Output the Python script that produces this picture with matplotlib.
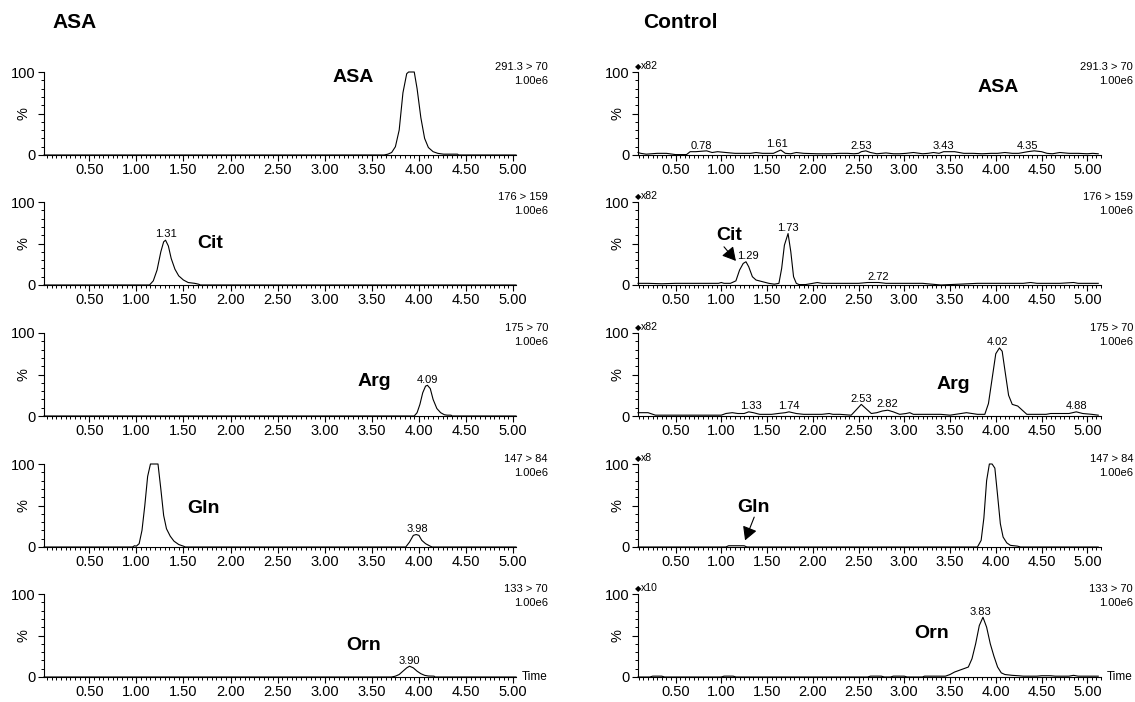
"""
plot.py
-------
MRM chromatograms (ASA patient vs control), five transitions each.
Writes out.png at 1135x702.
"""

import matplotlib
matplotlib.use("Agg")
import matplotlib.pyplot as plt
import numpy as np
from matplotlib.ticker import MultipleLocator, FixedLocator, FixedFormatter

plt.rcParams["font.family"] = ["Liberation Sans", "DejaVu Sans"]

FIG_W, FIG_H = 1135, 702

COMPOUNDS = ["ASA", "Cit", "Arg", "Gln", "Orn"]
TRANSITIONS = ["291.3 > 70", "176 > 159", "175 > 70", "147 > 84", "133 > 70"]
INTENSITY = "1.00e6"
CTRL_GAIN = ["x82", "x82", "x82", "x8", "x10"]

# ---- ASA sample (time, min / % of full scale) ----
asa_asa_t = [0.02, 3.63, 3.67, 3.71, 3.75, 3.79, 3.83, 3.87, 3.89, 3.95, 3.98, 4.02,
             4.06, 4.10, 4.15, 4.20, 4.26, 4.41, 4.42, 5.03]
asa_asa_y = [0, 0, 1, 3, 10, 30, 75, 98, 100, 100, 80, 45, 20, 9, 4, 2, 1, 1, 0, 0]

asa_cit_t = [0.02, 1.14, 1.18, 1.22, 1.26, 1.29, 1.31, 1.34, 1.37, 1.41, 1.45, 1.50,
             1.55, 1.62, 1.66, 1.68, 5.03]
asa_cit_y = [0, 0, 5, 18, 40, 52, 54, 47, 32, 19, 11, 6, 3, 2, 1, 0, 0]

asa_arg_t = [0.02, 3.95, 3.98, 4.01, 4.04, 4.07, 4.09, 4.12, 4.15, 4.19, 4.23, 4.27,
             4.30, 4.34, 4.35, 5.03]
asa_arg_y = [0, 0, 4, 14, 28, 36, 37, 33, 20, 9, 4, 1.5, 1, 1, 0, 0]

asa_gln_t = [0.02, 0.96, 0.98, 1.00, 1.03, 1.06, 1.09, 1.12, 1.15, 1.23, 1.26, 1.29,
             1.32, 1.36, 1.40, 1.45, 1.50, 1.52, 3.86, 3.90, 3.94, 3.97, 4.00, 4.03,
             4.07, 4.12, 4.14, 5.03]
asa_gln_y = [0, 0, 1.5, 1, 4, 20, 50, 85, 100, 100, 70, 38, 22, 13, 7, 3, 1, 0, 0, 6,
             14, 15, 14, 8, 4, 1, 0, 0]

asa_orn_t = [0.02, 3.71, 3.75, 3.79, 3.83, 3.87, 3.90, 3.94, 3.98, 4.02, 4.06, 4.10,
             4.16, 4.17, 5.03]
asa_orn_y = [0, 0, 1, 3, 7, 11, 13, 11, 7, 4, 2, 1.2, 1, 0, 0]

# ---- Control sample ----
ctl_asa_t = [0.09, 0.12, 0.18, 0.30, 0.40, 0.50, 0.55, 0.62, 0.66, 0.72, 0.78, 0.84,
             0.90, 0.96, 1.05, 1.15, 1.25, 1.32, 1.38, 1.45, 1.52, 1.57, 1.61, 1.65,
             1.70, 1.76, 1.82, 1.90, 2.05, 2.20, 2.30, 2.38, 2.45, 2.50, 2.53, 2.58,
             2.63, 2.70, 2.80, 2.88, 2.95, 3.02, 3.10, 3.20, 3.26, 3.32, 3.38, 3.43,
             3.48, 3.55, 3.65, 3.75, 3.85, 3.95, 4.02, 4.10, 4.18, 4.25, 4.30, 4.35,
             4.42, 4.50, 4.56, 4.62, 4.70, 4.80, 4.90, 5.00, 5.06, 5.12]
ctl_asa_y = [3, 2, 1, 2, 2, 0.5, 0.5, 0.5, 4, 4, 4.5, 5, 3, 4, 3, 2, 2, 2, 3, 2, 2, 2,
             4, 6, 2, 1.5, 3, 2, 1.5, 1.5, 2, 2, 1.5, 2, 4, 5, 3, 1.5, 2.5, 1.5, 1.5,
             2, 3, 1.5, 2, 3, 2, 4, 4, 4, 2, 2, 1.5, 2, 2, 3, 2, 2, 3, 4, 5, 4, 2, 1.5,
             3, 2, 2, 1.5, 2, 1.5]

ctl_cit_t = [0.09, 0.20, 0.35, 0.50, 0.70, 0.90, 0.97, 1.00, 1.03, 1.10, 1.16, 1.20,
             1.24, 1.27, 1.30, 1.34, 1.38, 1.45, 1.52, 1.58, 1.63, 1.66, 1.69, 1.73,
             1.76, 1.79, 1.82, 1.85, 1.92, 2.00, 2.05, 2.10, 2.30, 2.50, 2.60, 2.65,
             2.72, 2.80, 3.00, 3.20, 3.30, 3.40, 3.60, 3.80, 4.00, 4.30, 4.38, 4.45,
             4.70, 4.85, 4.90, 5.00, 5.12]
ctl_cit_y = [2, 2, 1.5, 2, 2, 2, 2, 3, 2, 2, 5, 18, 26, 28, 22, 10, 6, 4, 2, 1, 2,
             20, 48, 62, 40, 10, 2, 0.5, 0.5, 2, 3, 2, 2, 2, 3, 3, 3, 2, 2, 2, 1, 0,
             1, 2, 2, 2, 3, 2, 2, 3, 2, 2, 2]

ctl_arg_t = [0.09, 0.20, 0.28, 0.50, 0.80, 1.00, 1.05, 1.12, 1.18, 1.25, 1.30, 1.35,
             1.42, 1.55, 1.62, 1.70, 1.74, 1.82, 1.90, 2.10, 2.18, 2.22, 2.30, 2.42,
             2.48, 2.53, 2.58, 2.64, 2.70, 2.76, 2.82, 2.88, 2.95, 3.02, 3.06, 3.10,
             3.20, 3.40, 3.50, 3.62, 3.68, 3.74, 3.80, 3.88, 3.92, 3.96, 4.00, 4.04,
             4.07, 4.10, 4.14, 4.18, 4.24, 4.28, 4.34, 4.45, 4.55, 4.60, 4.70, 4.80,
             4.88, 4.95, 5.05, 5.12]
ctl_arg_y = [4, 4, 1, 1, 1, 1, 3, 4, 3, 3, 5, 4, 2, 2, 3, 4, 5, 3, 2, 2, 3, 2, 2, 1,
             8, 14, 9, 3, 4, 6, 7, 5, 2, 3, 4, 2, 2, 2, 1, 3, 4, 3, 2, 2, 15, 45, 75,
             82, 78, 55, 25, 14, 12, 8, 2, 2, 2, 3, 3, 3, 5, 3, 2, 1]

ctl_gln_t = [0.09, 1.05, 1.08, 1.25, 1.28, 3.80, 3.84, 3.87, 3.90, 3.93, 3.96, 3.99,
             4.02, 4.05, 4.08, 4.12, 4.16, 4.20, 4.24, 4.27, 5.12]
ctl_gln_y = [0, 0, 1.5, 1.5, 0, 0, 8, 35, 80, 100, 100, 95, 62, 28, 12, 5, 2, 1.5, 1,
             0, 0]

ctl_orn_t = [0.09, 0.22, 0.25, 0.35, 0.38, 1.00, 1.03, 1.13, 1.16, 2.60, 2.63, 2.75,
             2.78, 2.85, 2.88, 3.00, 3.03, 3.20, 3.22, 3.45, 3.50, 3.55, 3.60, 3.65,
             3.70, 3.74, 3.78, 3.82, 3.86, 3.90, 3.94, 3.98, 4.02, 4.06, 4.10, 4.18,
             4.25, 4.30, 4.45, 4.50, 4.60, 4.65, 4.80, 4.85, 4.90, 4.95, 5.12]
ctl_orn_y = [0, 0, 1, 1, 0, 0, 1, 1, 0, 0, 1, 1, 0, 0, 1, 1, 0, 0, 1, 1, 3, 6, 8, 10,
             12, 22, 40, 62, 72, 60, 40, 25, 12, 5, 3, 2, 1.5, 1, 1, 1.5, 1.5, 1, 1, 2,
             1, 1, 1]

# peak apex labels (retention times)
ASA_PEAKS = [[], [1.31], [4.09], [3.98], [3.90]]
CTL_PEAKS = [[0.78, 1.61, 2.53, 3.43, 4.35], [1.29, 1.73, 2.72],
             [1.33, 1.74, 2.53, 2.82, 4.02, 4.88], [], [3.83]]

ASA_TRACES = [(asa_asa_t, asa_asa_y), (asa_cit_t, asa_cit_y), (asa_arg_t, asa_arg_y),
              (asa_gln_t, asa_gln_y), (asa_orn_t, asa_orn_y)]
CTL_TRACES = [(ctl_asa_t, ctl_asa_y), (ctl_cit_t, ctl_cit_y), (ctl_arg_t, ctl_arg_y),
              (ctl_gln_t, ctl_gln_y), (ctl_orn_t, ctl_orn_y)]

# ---- layout (pixels) ----
ZERO_Y = [155, 285, 416, 547, 677]
PANEL_H = 83
COLS = {
    "asa": dict(x0=44, x1=516, xlim=(0.02, 5.03), tr_right=548),
    "ctl": dict(x0=638, x1=1101, xlim=(0.09, 5.15), tr_right=1133),
}
ASA_NAME_POS = [(3.30, 93), (1.78, 50), (3.53, 42), (1.71, 46), (3.41, 38)]
CTL_NAME_POS = [(4.03, 81), (1.09, 60), (3.54, 38), (1.35, 47), (3.30, 53)]
CTL_ARROWS = {1: ((1.03, 46), (1.16, 29)), 3: ((1.36, 36), (1.26, 8))}
ARROW_STYLE = "-|>,head_length=0.45,head_width=0.25"


def fx(px):
    return px / FIG_W


def fy(py):
    return 1 - py / FIG_H


def style_axes(ax, xlim):
    ax.set_xlim(*xlim)
    ax.set_ylim(0, 100)
    for s in ("top", "right"):
        ax.spines[s].set_visible(False)
    for s in ("left", "bottom"):
        ax.spines[s].set_linewidth(0.8)
    ax.xaxis.set_major_locator(MultipleLocator(0.5))
    ax.xaxis.set_minor_locator(MultipleLocator(0.05))
    ax.xaxis.set_major_formatter(lambda v, _: f"{v:.2f}")
    ax.yaxis.set_major_locator(FixedLocator([0, 50, 100]))
    ax.yaxis.set_major_formatter(FixedFormatter(["0", "", "100"]))
    ax.yaxis.set_minor_locator(MultipleLocator(10))
    ax.tick_params(which="major", direction="out", length=4, width=0.8,
                   labelsize=10.5, pad=2)
    ax.tick_params(which="minor", direction="out", length=2.2, width=0.7)
    ax.patch.set_alpha(0)


def label_peaks(ax, t, y, peaks):
    t = np.asarray(t)
    y = np.asarray(y)
    for p in peaks:
        near = np.abs(t - p) <= 0.045
        top = y[near].max() if near.any() else np.interp(p, t, y)
        ax.annotate(f"{p:.2f}", (p, top), xytext=(0, 0.5), textcoords="offset points",
                    ha="center", va="bottom", fontsize=8)


fig = plt.figure(figsize=(FIG_W / 100, FIG_H / 100), dpi=100)

fig.text(fx(52), fy(22), "ASA", fontsize=15, fontweight="bold", va="center")
fig.text(fx(643), fy(22), "Control", fontsize=15, fontweight="bold", va="center")

for key, traces, peaks, names in (("asa", ASA_TRACES, ASA_PEAKS, ASA_NAME_POS),
                                  ("ctl", CTL_TRACES, CTL_PEAKS, CTL_NAME_POS)):
    col = COLS[key]
    width = col["x1"] - col["x0"]
    for i, (t, y) in enumerate(traces):
        ax = fig.add_axes([fx(col["x0"]), fy(ZERO_Y[i]), width / FIG_W, PANEL_H / FIG_H])
        style_axes(ax, col["xlim"])
        ax.plot(t, y, color="black", lw=0.8, clip_on=False)
        label_peaks(ax, t, y, peaks[i])

        ax.set_ylabel("%", fontsize=10.5)
        ax.yaxis.set_label_coords(-14 / width, 0.5)

        nx, ny = names[i]
        ax.text(nx, ny, COMPOUNDS[i], fontsize=14, fontweight="bold",
                ha="center", va="center")

        fig.text(fx(col["tr_right"]), fy(ZERO_Y[i] - PANEL_H + 2),
                 f"{TRANSITIONS[i]}\n{INTENSITY}", ha="right", va="center",
                 multialignment="right", fontsize=8, linespacing=1.5)

        if key == "ctl":
            ax.annotate("\u25c6", (0, 1), xycoords="axes fraction", xytext=(0, 4),
                        textcoords="offset points", ha="center", va="center",
                        fontsize=6, family=["DejaVu Sans"])
            ax.annotate(CTRL_GAIN[i], (0, 1), xycoords="axes fraction",
                        xytext=(2, 4), textcoords="offset points", ha="left",
                        va="center", fontsize=7.5)
            if i in CTL_ARROWS:
                (sx, sy), (ex, ey) = CTL_ARROWS[i]
                ax.annotate("", xy=(ex, ey), xytext=(sx, sy),
                            arrowprops=dict(arrowstyle=ARROW_STYLE, color="black",
                                            lw=0.8, mutation_scale=18,
                                            shrinkA=0, shrinkB=0))

    fig.text(fx(col["x1"] + 6), fy(ZERO_Y[-1]), "Time", fontsize=8.5, va="center")

fig.savefig("out.png", dpi=100)
